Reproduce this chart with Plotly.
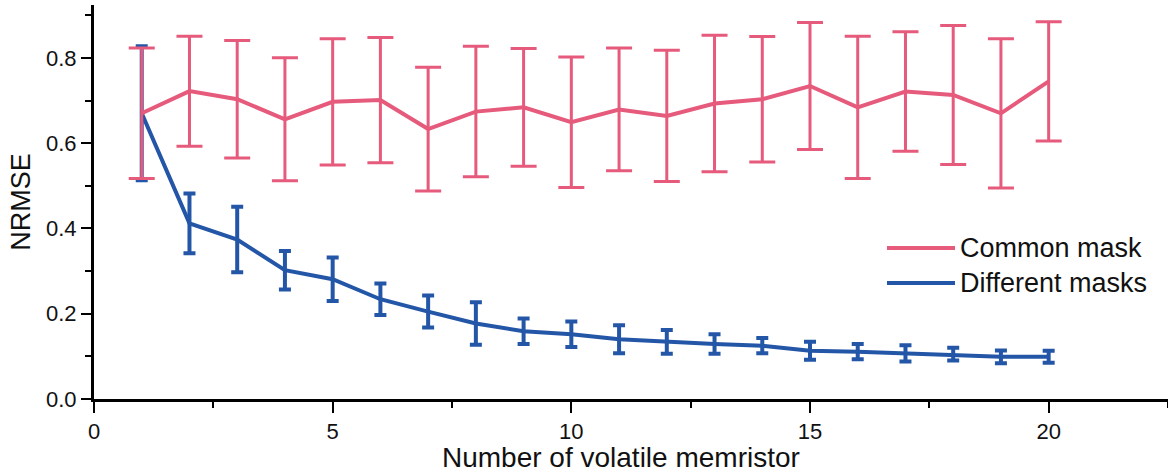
import plotly.graph_objects as go

n_memristor = list(range(1, 21))

common_mean = [0.670, 0.722, 0.703, 0.656, 0.697, 0.701, 0.633, 0.674, 0.684, 0.649,
               0.679, 0.664, 0.693, 0.703, 0.734, 0.684, 0.721, 0.713, 0.670, 0.745]
common_err = [0.153, 0.129, 0.138, 0.144, 0.148, 0.147, 0.145, 0.153, 0.138, 0.153,
              0.144, 0.154, 0.160, 0.147, 0.149, 0.167, 0.140, 0.163, 0.175, 0.140]

diff_mean = [0.670, 0.412, 0.374, 0.302, 0.281, 0.234, 0.205, 0.177, 0.159, 0.152,
             0.140, 0.134, 0.129, 0.125, 0.113, 0.111, 0.107, 0.105, 0.099, 0.099]
diff_err = [0.157, 0.070, 0.077, 0.045, 0.051, 0.037, 0.0375, 0.050, 0.030, 0.030,
            0.033, 0.028, 0.023, 0.018, 0.021, 0.018, 0.019, 0.015, 0.015, 0.014]

series_names = ["Common mask", "Different masks"]
x_title = "Number of volatile memristor"
y_title = "NRMSE"
PINK = "#E65A7C"
BLUE = "#2456A8"
FONT = "Liberation Sans, Arial, sans-serif"

fig = go.Figure()
fig.add_trace(go.Scatter(
    x=n_memristor, y=diff_mean, mode="lines", name=series_names[1],
    line=dict(color=BLUE, width=4),
    error_y=dict(type="data", array=diff_err, visible=True, color=BLUE, thickness=4, width=6),
    showlegend=False,
))
fig.add_trace(go.Scatter(
    x=n_memristor, y=common_mean, mode="lines", name=series_names[0],
    line=dict(color=PINK, width=4),
    error_y=dict(type="data", array=common_err, visible=True, color=PINK, thickness=3, width=13),
    showlegend=False,
))

def px2paper_x(px):
    return (px - 94) / 1074.0

def px2paper_y(py):
    return (399 - py) / 394.0

# manual legend
for name, col, py in [(series_names[0], PINK, 248), (series_names[1], BLUE, 283)]:
    fig.add_shape(type="line", xref="paper", yref="paper",
                  x0=px2paper_x(887), x1=px2paper_x(955), y0=px2paper_y(py), y1=px2paper_y(py),
                  line=dict(color=col, width=4))
    fig.add_annotation(xref="paper", yref="paper", x=px2paper_x(958), y=px2paper_y(py),
                       text=name, showarrow=False, xanchor="left", yanchor="middle",
                       font=dict(family=FONT, size=27, color="#111111"))

# x-axis title (slightly left of plot center, as in the reference)
fig.add_annotation(xref="paper", yref="paper", x=px2paper_x(621), y=px2paper_y(457),
                   text=x_title, showarrow=False, xanchor="center", yanchor="middle",
                   font=dict(family=FONT, size=28, color="#111111"))

fig.update_layout(
    width=1168, height=473,
    margin=dict(l=94, r=0, t=5, b=74),
    paper_bgcolor="white", plot_bgcolor="white",
    font=dict(family=FONT, color="#111111"),
    showlegend=False,
)
fig.update_xaxes(
    range=[0, 22.5], tickmode="array", tickvals=[0, 5, 10, 15, 20],
    ticks="outside", ticklen=11, tickwidth=2, tickcolor="black",
    minor=dict(tickmode="array", tickvals=[2.5, 7.5, 12.5, 17.5, 22.5], ticks="outside", ticklen=6, tickwidth=2, tickcolor="black"),
    showline=True, linecolor="black", linewidth=3, showgrid=False, zeroline=False,
    tickfont=dict(size=22, family=FONT, color="#111111"),
)
fig.update_yaxes(
    range=[0, 0.924], tickmode="array", tickvals=[0, 0.2, 0.4, 0.6, 0.8],
    ticktext=["0.0", "0.2", "0.4", "0.6", "0.8"],
    ticks="outside", ticklen=10, tickwidth=2, tickcolor="black",
    minor=dict(tickmode="array", tickvals=[0.1, 0.3, 0.5, 0.7, 0.9], ticks="outside", ticklen=6, tickwidth=2, tickcolor="black"),
    showline=True, linecolor="black", linewidth=3, showgrid=False, zeroline=False,
    tickfont=dict(size=22, family=FONT, color="#111111"),
    title=dict(text=y_title, font=dict(size=27, family=FONT, color="#111111"), standoff=8),
)

fig.write_html("out.html")
